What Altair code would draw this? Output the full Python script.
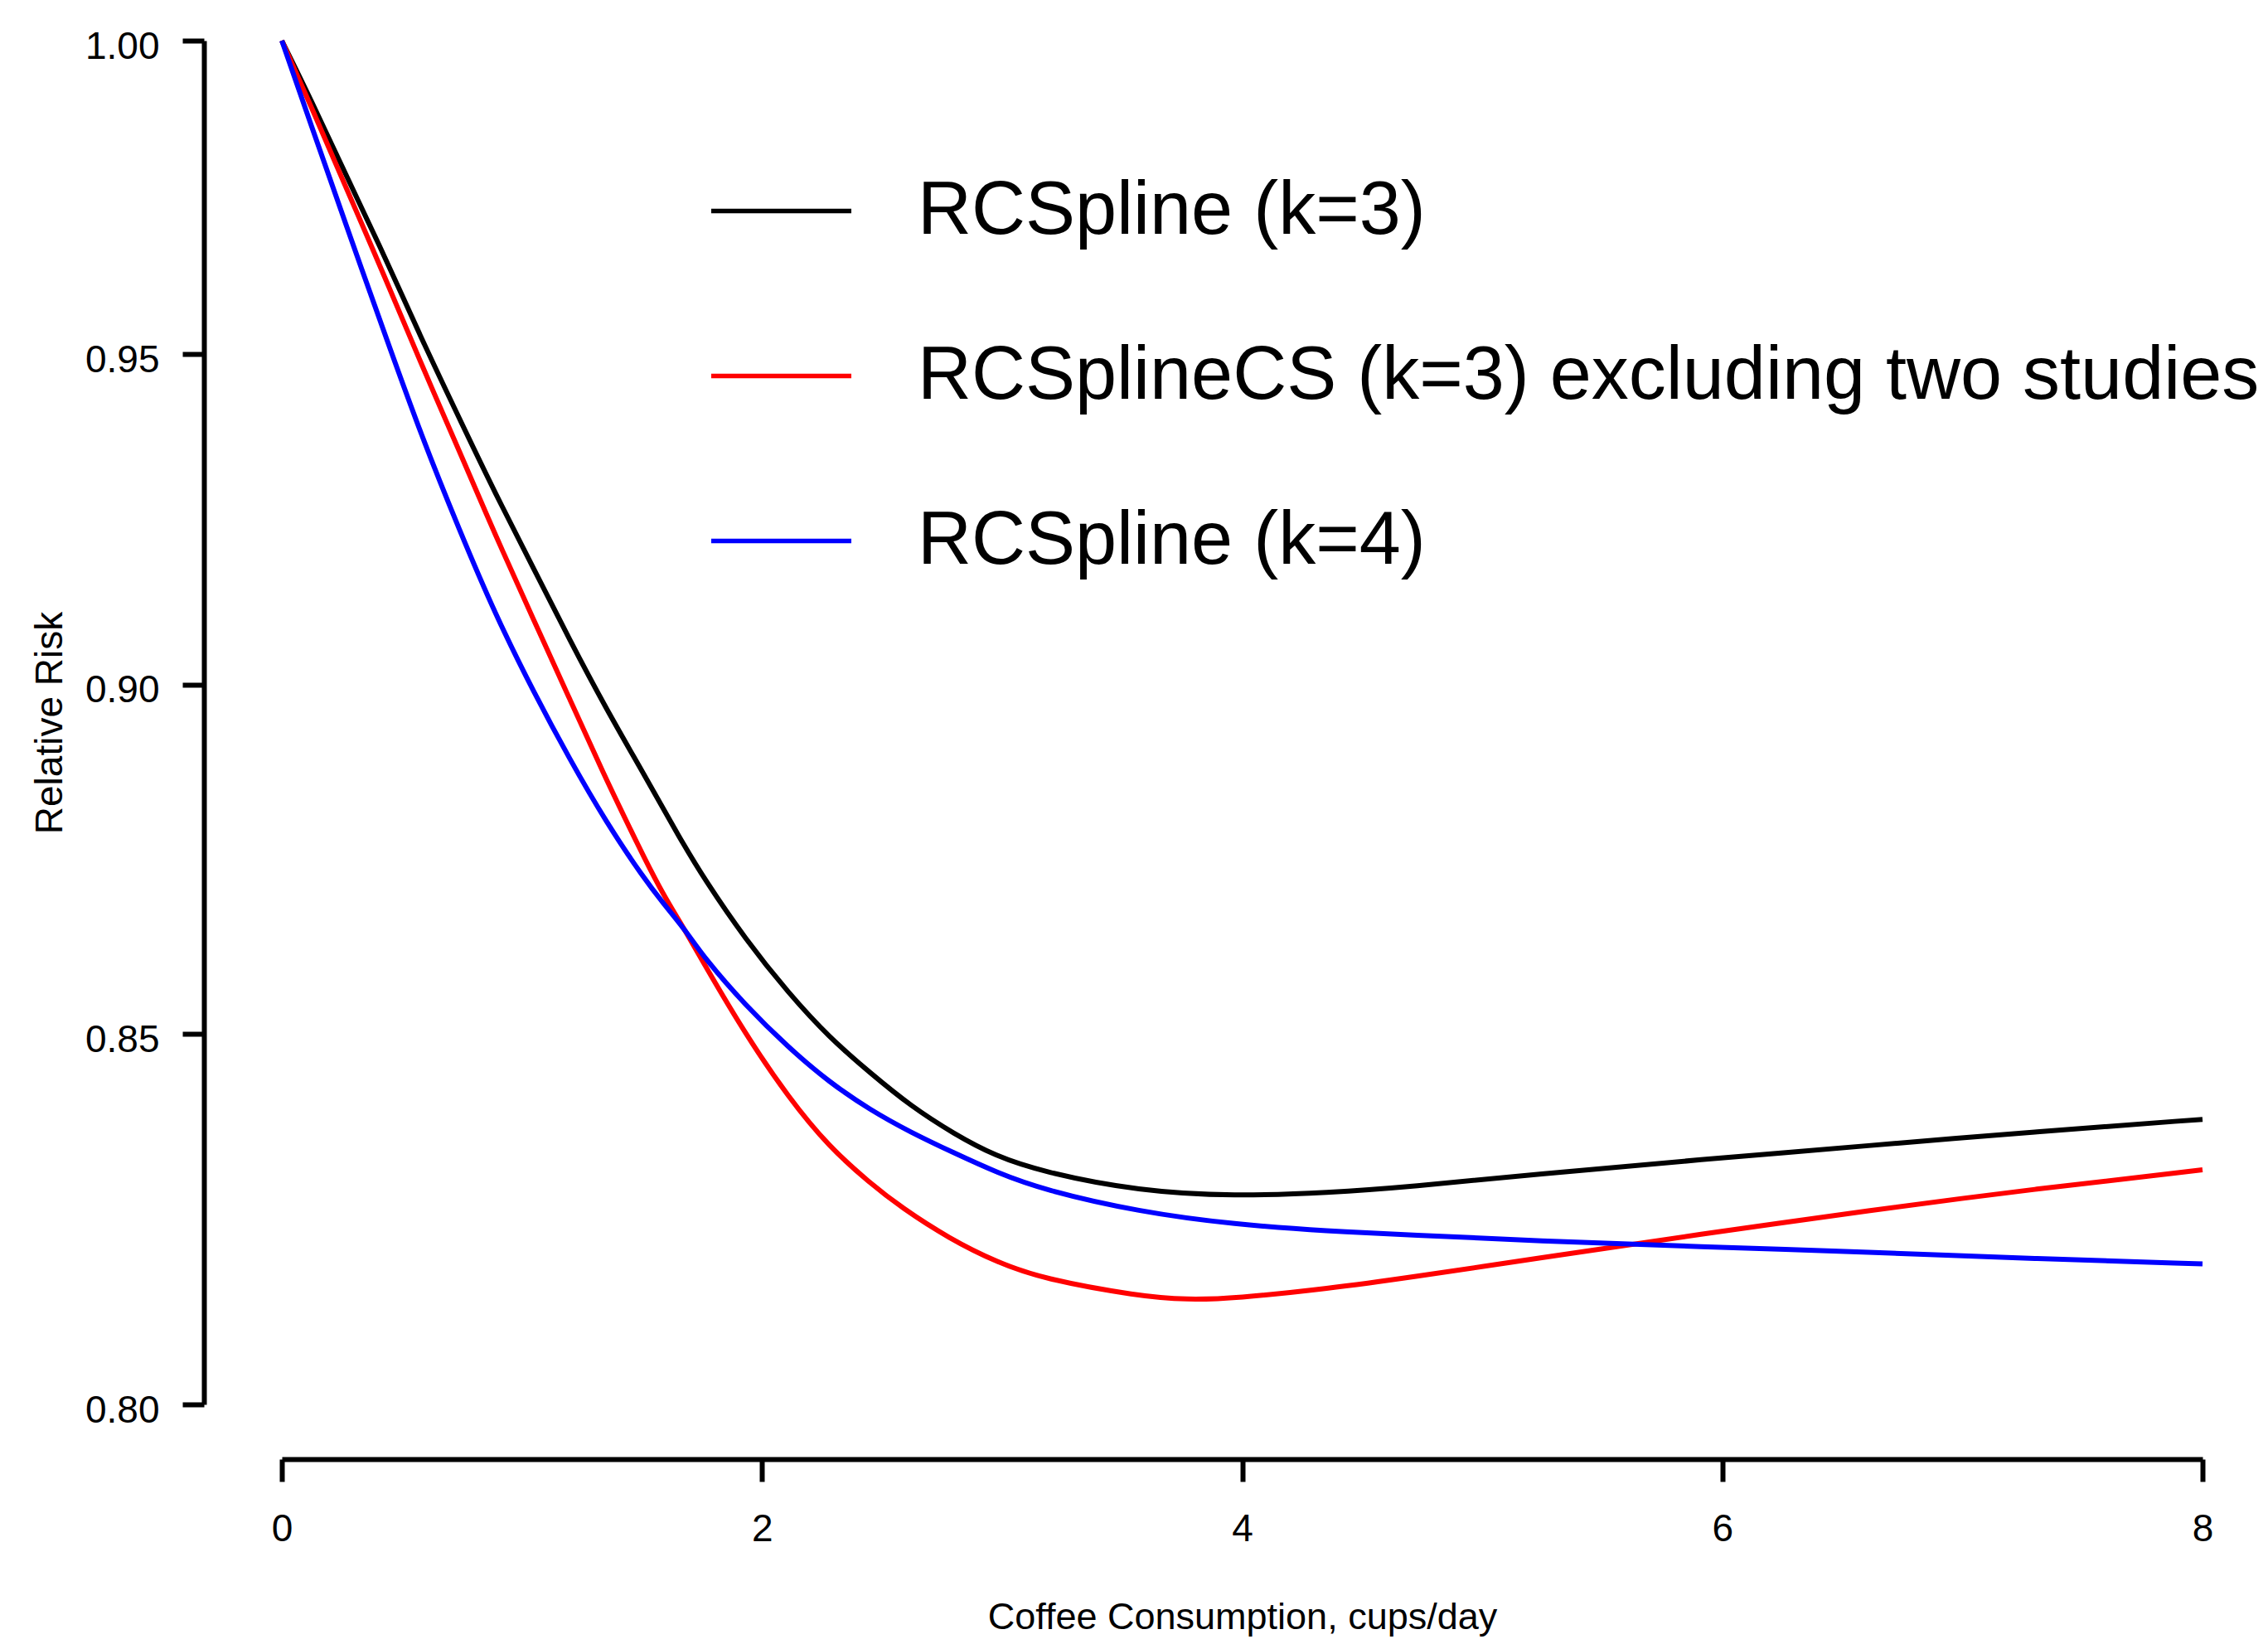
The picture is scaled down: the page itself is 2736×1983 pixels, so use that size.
import altair as alt
import pandas as pd

# ---- data ----
series_names = ["RCSpline (k=3)", "RCSplineCS (k=3) excluding two studies", "RCSpline (k=4)"]
series_colors = ["#000000", "#FF0000", "#0000FF"]

k3_x = [0, 0.12, 0.27, 0.43, 0.58, 0.74, 0.89, 1.05, 1.20, 1.35, 1.51, 1.66, 1.76, 1.93,
        2.11, 2.28, 2.45, 2.62, 2.80, 2.97, 3.17, 3.57, 3.97, 4.36, 4.70, 5.22, 5.91, 6.61, 7.30, 8.0]
k3_rr = [1.000, 0.9905, 0.9780, 0.9652, 0.9525, 0.9400, 0.9285, 0.9172, 0.9065, 0.8965, 0.8868,
         0.8775, 0.8718, 0.8633, 0.8557, 0.8495, 0.8446, 0.8400, 0.8362, 0.8332, 0.8310, 0.8284,
         0.8277, 0.8282, 0.8290, 0.8307, 0.8327, 0.8346, 0.8365, 0.8382]

cs_x = [0, 0.12, 0.27, 0.43, 0.58, 0.74, 0.89, 1.05, 1.20, 1.35, 1.42, 1.51, 1.59, 1.68, 1.76,
        1.93, 2.11, 2.28, 2.45, 2.58, 2.78, 2.98, 3.17, 3.57, 3.77, 3.97, 4.36, 4.70, 5.22, 5.91,
        6.61, 7.30, 8.0]
cs_rr = [1.000, 0.9895, 0.9760, 0.9620, 0.9485, 0.9350, 0.9222, 0.9095, 0.8978, 0.8862, 0.8812,
         0.8748, 0.8695, 0.8645, 0.8597, 0.8500, 0.8412, 0.8344, 0.8295, 0.8262, 0.8220, 0.8188,
         0.8166, 0.8143, 0.8138, 0.8140, 0.8153, 0.8168, 0.8193, 0.8226, 0.8258, 0.8287, 0.8313]

k4_x = [0, 0.12, 0.27, 0.43, 0.58, 0.74, 0.89, 1.05, 1.20, 1.35, 1.51, 1.59, 1.68, 1.76, 1.93,
        2.11, 2.28, 2.45, 2.62, 2.80, 2.98, 3.17, 3.57, 3.97, 4.36, 4.70, 5.22, 5.91, 6.61, 7.30, 8.0]
k4_rr = [1.000, 0.9865, 0.9700, 0.9530, 0.9375, 0.9230, 0.9103, 0.8988, 0.8890, 0.8800, 0.8718,
         0.8683, 0.8646, 0.8606, 0.8540, 0.8481, 0.8433, 0.8395, 0.8364, 0.8336, 0.8309, 0.8286,
         0.8256, 0.8239, 0.8230, 0.8225, 0.8217, 0.8209, 0.8202, 0.8193, 0.8186]

x_ticks = [0, 2, 4, 6, 8]
y_ticks = [0.80, 0.85, 0.90, 0.95, 1.00]

frames = []
for name, xs, ys in zip(series_names, [k3_x, cs_x, k4_x], [k3_rr, cs_rr, k4_rr]):
    frames.append(pd.DataFrame({"x": xs, "rr": ys, "series": name}))
df = pd.concat(frames, ignore_index=True)

FONT = "Liberation Sans"

x_enc = alt.X(
    "x:Q",
    scale=alt.Scale(domain=[0, 8], nice=False, zero=False),
    axis=alt.Axis(
        values=x_ticks, format="d", offset=66, grid=False,
        domainWidth=6, domainColor="black", tickWidth=6, tickColor="black", tickSize=27,
        labelFont=FONT, labelFontSize=46, labelColor="black", labelPadding=35,
        labelFlush=False, labelOverlap=False,
        title="Coffee Consumption, cups/day", titleFont=FONT, titleFontSize=45,
        titleFontWeight="normal", titleColor="black",
        titleX=1158.5, titleY=204, titleBaseline="alphabetic", titleAlign="center",
    ),
)
y_enc = alt.Y(
    "rr:Q",
    scale=alt.Scale(type="log", domain=[0.8, 1.0], nice=False, zero=False),
    axis=alt.Axis(
        values=y_ticks, format=".2f", offset=94, grid=False,
        domainWidth=6, domainColor="black", tickWidth=6, tickColor="black", tickSize=26,
        labelFont=FONT, labelFontSize=46, labelColor="black", labelPadding=28, labelOffset=7,
        labelFlush=False, labelOverlap=False,
        title="Relative Risk", titleFont=FONT, titleFontSize=46, titleFontWeight="normal",
        titleColor="black", titleX=-172, titleY=822.5, titleAngle=270,
        titleBaseline="alphabetic", titleAlign="center",
    ),
)
color_enc = alt.Color(
    "series:N",
    scale=alt.Scale(domain=series_names, range=series_colors),
    sort=series_names,
    legend=alt.Legend(
        title=None, orient="none", legendX=515, legendY=118, padding=0,
        symbolType="stroke", symbolSize=28561, symbolStrokeWidth=5.5,
        labelFont=FONT, labelFontSize=90, labelColor="black", labelOffset=77,
        labelLimit=3000, rowPadding=66,
    ),
)

layers = []
for name in series_names:
    layers.append(
        alt.Chart(df)
        .transform_filter(alt.datum.series == name)
        .mark_line(strokeWidth=6, interpolate="basis")
        .encode(x=x_enc, y=y_enc, color=color_enc)
    )

chart = (
    alt.layer(*layers)
    .properties(
        width=2317, height=1645,
        padding={"left": 332, "top": 41, "right": 71, "bottom": 281},
        autosize=alt.AutoSizeParams(type="none"),
        background="white",
    )
    .configure_view(strokeWidth=0)
)

chart.save("out.html", embed_options={"renderer": "svg", "actions": False})
